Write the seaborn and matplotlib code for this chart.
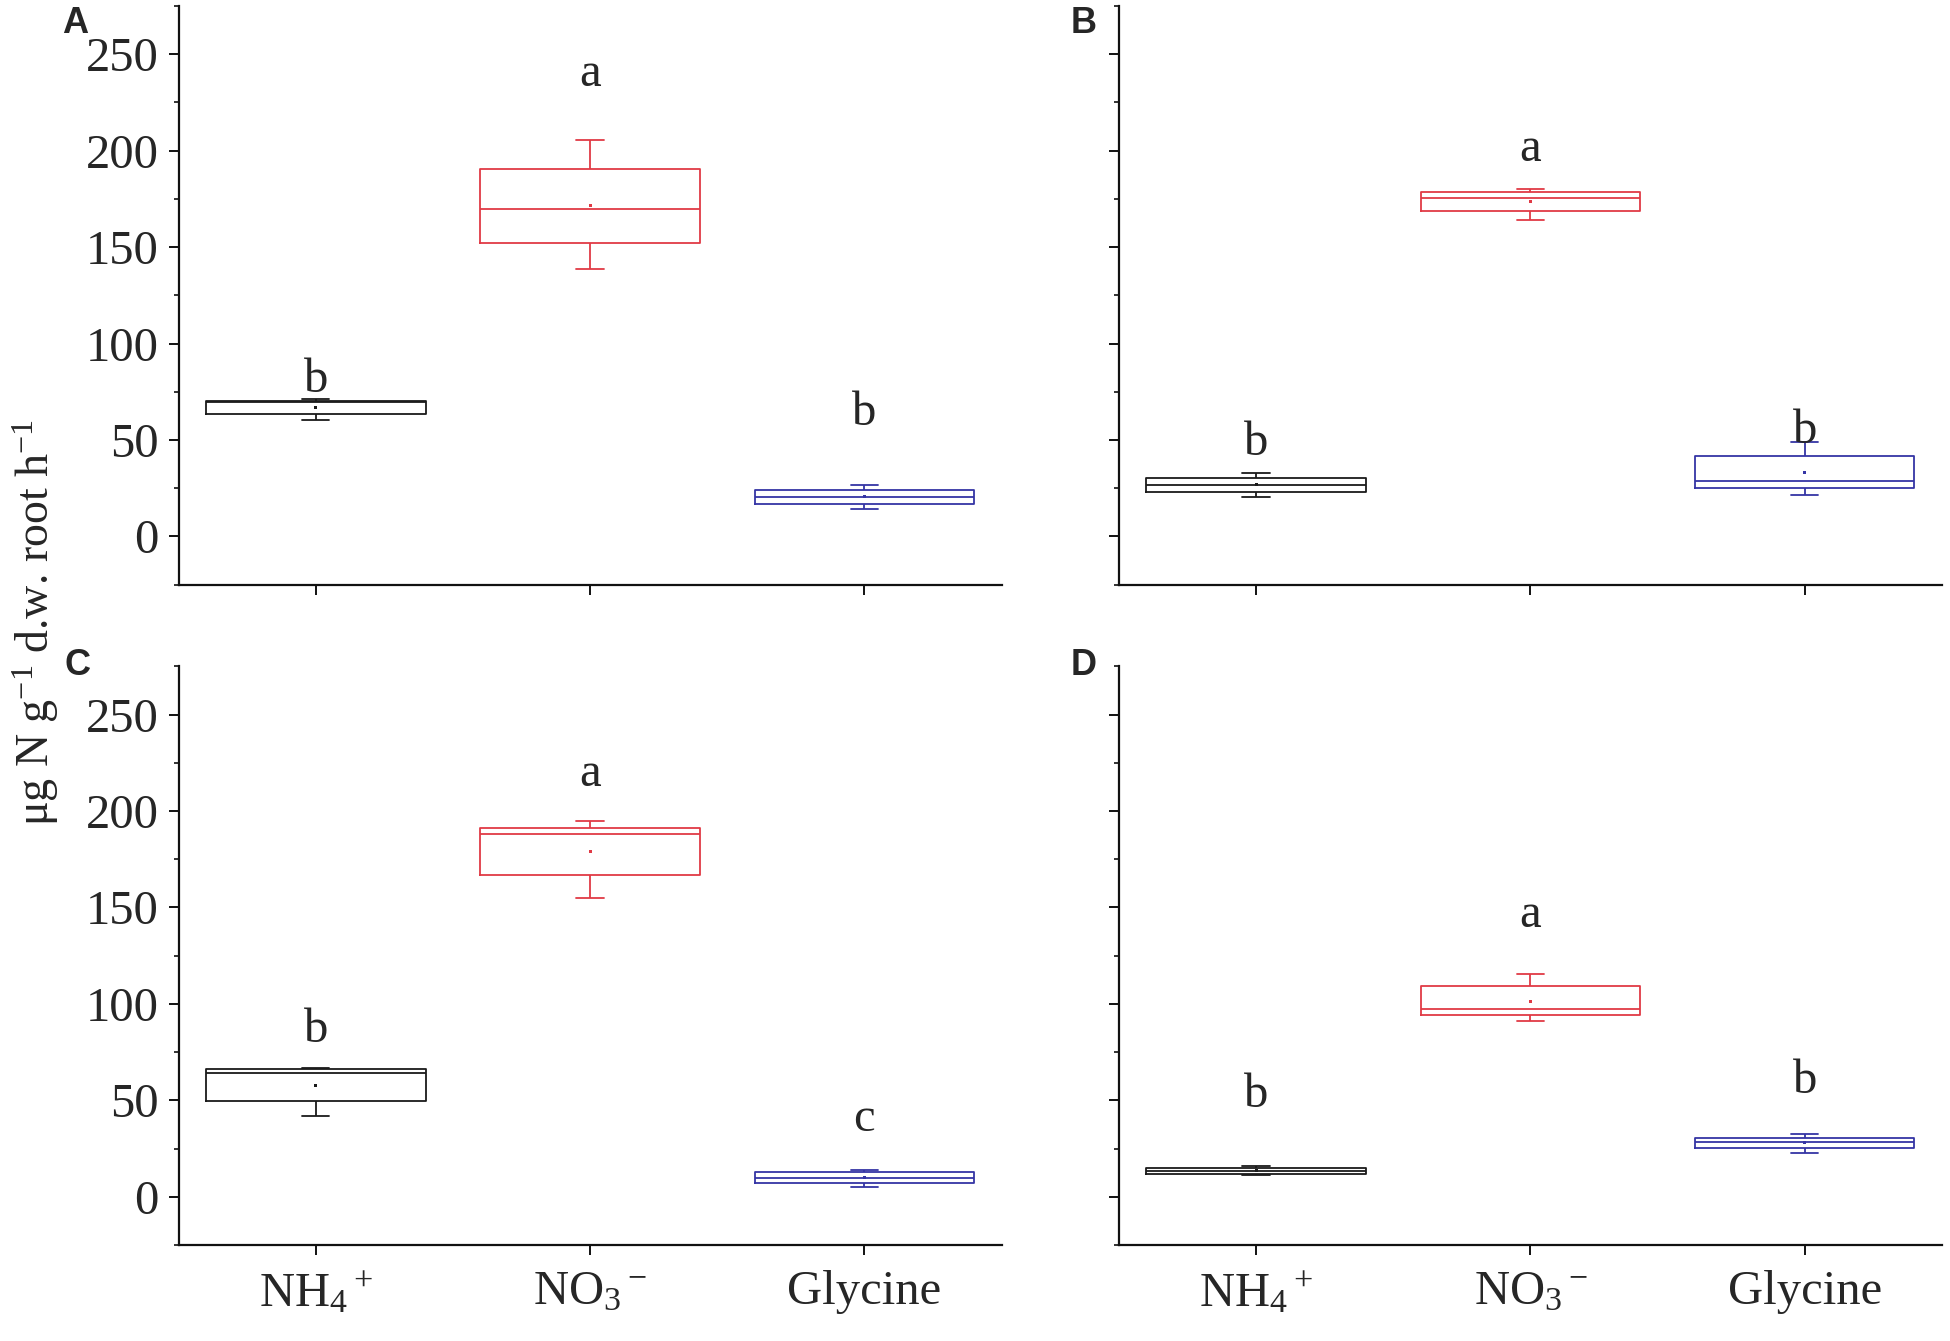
import numpy as np
import pandas as pd
import matplotlib
matplotlib.use('Agg')
import matplotlib.pyplot as plt
import seaborn as sns
from matplotlib.ticker import MultipleLocator, AutoMinorLocator

# categories and labels
sources = ['NH4', 'NO3', 'Glycine']
tick_labels = [r'NH$_4$$^+$', r'NO$_3$$^-$', 'Glycine']
colors = ['#1a1a1a', '#e03a45', '#3535a5']
panels = ['A', 'B', 'C', 'D']

# box statistics, rows = panels A-D, cols = NH4, NO3, Glycine
whisk_lo = [[60.1, 138.8, 14.2],
            [20.3, 164.2, 21.6],
            [41.9, 155.0, 5.3],
            [11.4, 90.9, 22.8]]
q1 = [[63.2, 152.2, 16.8],
      [22.8, 168.7, 25.3],
      [49.5, 166.7, 6.9],
      [11.7, 94.0, 25.2]]
median = [[69.5, 169.9, 20.2],
          [26.6, 175.6, 28.8],
          [64.0, 188.0, 9.5],
          [13.4, 97.6, 28.3]]
q3 = [[70.0, 190.5, 24.0],
      [30.2, 178.7, 41.7],
      [66.0, 191.3, 12.6],
      [14.8, 109.1, 30.3]]
whisk_hi = [[71.0, 205.4, 26.8],
            [33.1, 180.0, 49.0],
            [66.7, 194.8, 14.1],
            [16.0, 115.7, 32.4]]
means = [[66.7, 171.6, 20.5],
         [26.7, 173.7, 33.1],
         [57.6, 179.1, 9.8],
         [13.4, 101.4, 28.0]]

# significance letters and their baseline heights
letters = [['b', 'a', 'b'],
           ['b', 'a', 'b'],
           ['b', 'a', 'c'],
           ['b', 'a', 'b']]
letter_y = [[74.8, 233.5, 57.5],
            [42.2, 194.8, 48.3],
            [80.3, 213.0, 34.1],
            [46.6, 139.8, 54.0]]

# long table for seaborn: five values per box give exactly the quartiles above
rows = []
for i, p in enumerate(panels):
    for j, s in enumerate(sources):
        for v in [whisk_lo[i][j], q1[i][j], median[i][j], q3[i][j], whisk_hi[i][j]]:
            rows.append({'panel': p, 'source': s, 'value': v})
df = pd.DataFrame(rows)

sns.set_style('ticks')
plt.rcParams['font.family'] = ['Liberation Serif', 'DejaVu Serif']
plt.rcParams['mathtext.fontset'] = 'custom'
plt.rcParams['mathtext.rm'] = 'Liberation Serif'
plt.rcParams['mathtext.it'] = 'Liberation Serif:italic'
plt.rcParams['mathtext.bf'] = 'Liberation Serif:bold'

W, H = 1950, 1341
fig = plt.figure(figsize=(W / 100, H / 100), dpi=100)

ax_w, ax_h = 823 / W, 578.6 / H
lefts = [178.6 / W, 1118.9 / W]
bottoms = [1 - 584.6 / H, 1 - 1245 / H]
label_pos = [(62, 6), (1071, 6), (64, 648), (1071, 648)]

for i, p in enumerate(panels):
    r, c = divmod(i, 2)
    ax = fig.add_axes([lefts[c], bottoms[r], ax_w, ax_h])
    sub = df[df['panel'] == p]
    sns.boxplot(data=sub, x='source', y='value', hue='source', order=sources,
                hue_order=sources, palette=colors, fill=False, width=0.8,
                whis=(0, 100), linewidth=1.3, legend=False, ax=ax,
                capwidths=0.1)
    ax.scatter(np.arange(3), means[i], c=colors, s=5, marker='s', linewidths=0, zorder=5)

    for j in range(3):
        ax.text(j, letter_y[i][j], letters[i][j], ha='center', va='baseline', fontsize=35)

    ax.set_xlim(-0.5, 2.5)
    ax.set_ylim(-25, 275)
    ax.yaxis.set_major_locator(MultipleLocator(50))
    ax.yaxis.set_minor_locator(AutoMinorLocator(2))
    ax.set_xticks(range(3))
    ax.set_xticklabels(tick_labels)
    ax.set_xlabel('')
    ax.set_ylabel('')
    sns.despine(ax=ax)
    for side in ['left', 'bottom']:
        ax.spines[side].set_linewidth(1.6)
        ax.spines[side].set_color('#111111')
    ax.tick_params(axis='both', which='major', length=7.2, width=1.4,
                   direction='out', labelsize=35, pad=7, color='#111111')
    ax.tick_params(axis='x', which='major', pad=11)
    ax.tick_params(axis='y', which='minor', length=3.6, width=1.2, color='#111111')
    if c == 1:
        ax.tick_params(axis='y', labelleft=False)
    if r == 0:
        ax.tick_params(axis='x', labelbottom=False)

    lx, ly = label_pos[i]
    fig.text(lx / W, 1 - ly / H, p, fontsize=26, fontweight='bold',
             family='Liberation Sans', ha='left', va='top')

fig.text(36 / W, 1 - 623 / H, r'μg N g$^{-1}$ d.w. root h$^{-1}$', rotation=90,
         ha='center', va='center', fontsize=33)

fig.savefig('out.png', dpi=100)
